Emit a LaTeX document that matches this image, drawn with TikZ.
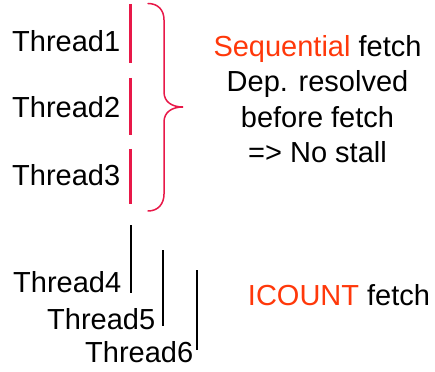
\documentclass[tikz,border=0pt]{standalone}
\usepackage{fontspec}
\setmainfont{Liberation Sans}
\definecolor{barred}{RGB}{232,24,72}
\definecolor{hilite}{RGB}{255,56,10}
\begin{document}
\begin{tikzpicture}[x=1pt,y=1pt,
  lbl/.style={anchor=base west,inner sep=0pt,font=\fontsize{29}{35.5}\selectfont},
  note/.style={anchor=base,inner sep=0pt,align=center,font=\fontsize{29}{35.5}\selectfont},
  seqbar/.style={draw=barred,line width=2.2pt},
  icbar/.style={draw=black,line width=2.6pt},
  bracket/.style={draw=barred,line width=1.5pt,line cap=round}]
\useasboundingbox (0,0) rectangle (435,-371);

% thread labels
\node[lbl] (t1) at (12,-52) {Thread1};
\node[lbl] (t2) at (12,-118) {Thread2};
\node[lbl] (t3) at (12,-185) {Thread3};
\node[lbl] (t4) at (13,-292) {Thread4};
\node[lbl] (t5) at (47,-329) {Thread5};
\node[lbl] (t6) at (85,-362) {Thread6};

% sequential fetch bars
\coordinate (a1) at (130.5,-4);   \coordinate (b1) at (130.5,-63);
\coordinate (a2) at (130.5,-78);  \coordinate (b2) at (130.5,-135);
\coordinate (a3) at (130.5,-149); \coordinate (b3) at (130.5,-204);
\draw[seqbar] (a1) -- (b1);
\draw[seqbar] (a2) -- (b2);
\draw[seqbar] (a3) -- (b3);

% ICOUNT fetch bars
\coordinate (a4) at (131,-225); \coordinate (b4) at (131,-293);
\coordinate (a5) at (163,-250); \coordinate (b5) at (163,-326);
\coordinate (a6) at (197,-270); \coordinate (b6) at (197,-350);
\draw[icbar] (a4) -- (b4);
\draw[icbar] (a5) -- (b5);
\draw[icbar] (a6) -- (b6);

% curly brace
\coordinate (btop) at (148,-3.5);
\coordinate (btip) at (183,-107);
\coordinate (bbot) at (148,-211);
\draw[bracket] (btop) .. controls (158,-3.5) and (164,-10) .. (164,-20)
  -- (164,-92) .. controls (164,-102) and (172,-107) .. (btip)
  .. controls (172,-107) and (164,-112) .. (164,-122)
  -- (164,-194) .. controls (164,-204) and (158,-211) .. (bbot);

% annotations
\node[note] (seq) at (317.5,-57) {\textcolor{hilite}{Sequential} fetch};
\node[note] (dep) at (317.5,-92) {Dep. resolved};
\node[note] (bef) at (317.5,-128) {before fetch};
\node[note] (nst) at (317.5,-163) {=> No stall};
\node[note] (ic) at (339,-305) {\textcolor{hilite}{ICOUNT} fetch};
\end{tikzpicture}
\end{document}
